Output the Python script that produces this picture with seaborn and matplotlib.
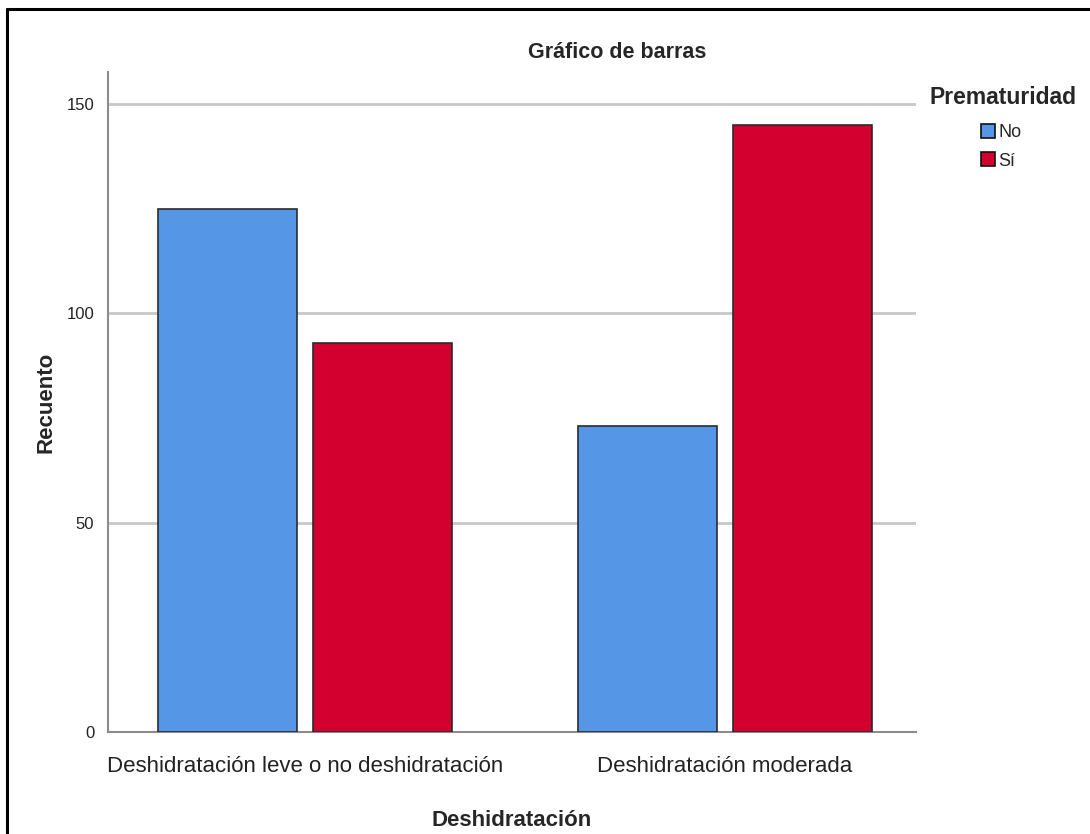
import matplotlib
matplotlib.use('Agg')
import matplotlib.pyplot as plt
from matplotlib import font_manager
from matplotlib.lines import Line2D
import pandas as pd
import seaborn as sns

# datos del grafico
categorias = ['Deshidratación leve o no deshidratación', 'Deshidratación moderada']
grupos = ['No', 'Sí']
recuento_no = [125, 73]
recuento_si = [93, 145]
y_ticks = [0, 50, 100, 150]

df = pd.DataFrame({
    'Deshidratación': categorias * 2,
    'Prematuridad': [grupos[0]] * 2 + [grupos[1]] * 2,
    'Recuento': recuento_no + recuento_si,
})

sns.set_theme(style='white')
names = {f.name for f in font_manager.fontManager.ttflist}
narrow = 'Liberation Sans Narrow' if 'Liberation Sans Narrow' in names else 'Liberation Sans'
plt.rcParams['font.family'] = [narrow, 'DejaVu Sans']
bold_fam = ['Liberation Sans', 'DejaVu Sans']

fig = plt.figure(figsize=(10.9, 8.34), dpi=100)
ax = fig.add_axes([0.0991, 0.1223, 0.7413, 0.7914])

palette = {'No': '#5596E6', 'Sí': '#D3002F'}
sns.barplot(data=df, x='Deshidratación', y='Recuento', hue='Prematuridad',
            order=categorias, hue_order=grupos, palette=palette, saturation=1,
            width=0.739, gap=0.103, edgecolor='#2b2b2b', linewidth=1.2,
            ax=ax, zorder=3)

ax.set_xlim(-0.4696, 1.4565)
ax.set_ylim(0, 157.6)
ax.set_yticks(y_ticks)
ax.set_yticklabels([str(v) for v in y_ticks], fontsize=12, color='#222222')
ax.tick_params(axis='x', labelsize=16, colors='#222222', length=0, pad=17)
ax.tick_params(axis='y', length=0, pad=10)
for v in y_ticks[1:]:
    ax.axhline(v, color='#C8C8C8', lw=2, zorder=1)

for s in ['top', 'right']:
    ax.spines[s].set_visible(False)
for s in ['left', 'bottom']:
    ax.spines[s].set_color('#8C8C8C')
    ax.spines[s].set_linewidth(1.5)

ax.set_xlabel('Deshidratación', fontsize=16, fontweight='bold',
              family=bold_fam, labelpad=24)
ax.set_ylabel('Recuento', fontsize=16, fontweight='bold',
              family=bold_fam, labelpad=7)

fig.text(617 / 1090, 1 - 52 / 834, 'Gráfico de barras', ha='center', va='center',
         fontsize=15.5, fontweight='bold', family=bold_fam)

# leyenda: titulo aparte y entradas debajo
fig.text(1003 / 1090, 1 - 97 / 834, 'Prematuridad', ha='center', va='center',
         fontsize=16.5, fontweight='bold', family=bold_fam)
leg = ax.legend(loc='upper left', bbox_to_anchor=(981 / 1090, 1 - 124 / 834),
                bbox_transform=fig.transFigure, frameon=False, fontsize=13,
                handlelength=0.8, handleheight=0.8,
                handletextpad=0.15, labelspacing=0.62,
                borderpad=0, borderaxespad=0)
for h in leg.legend_handles:
    h.set_edgecolor('#111111')

# marco exterior (solo izquierda y arriba visibles)
fig.add_artist(Line2D([7 / 1090, 7 / 1090], [0, 1 - 9 / 834], color='black', lw=2.2,
                      transform=fig.transFigure))
fig.add_artist(Line2D([7 / 1090, 1], [1 - 9 / 834, 1 - 9 / 834], color='black', lw=2.2,
                      transform=fig.transFigure))

fig.savefig('out.png', dpi=100, facecolor='white')
